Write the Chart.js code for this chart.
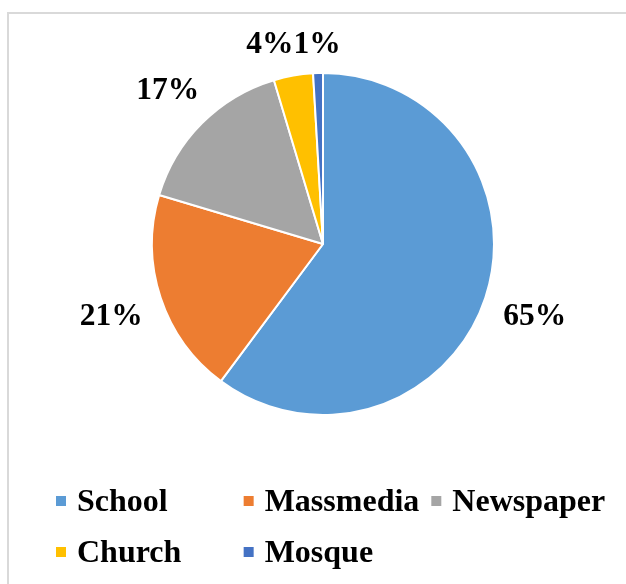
<!DOCTYPE html>
<html>
<head>
<meta charset="utf-8">
<script src="https://cdn.jsdelivr.net/npm/chart.js@4"></script>
<style>
  body { margin: 0; background: #fff; }
  canvas { display: block; }
</style>
</head>
<body>
<canvas id="sources" width="626" height="584"></canvas>
<script>
const categories = ['School', 'Massmedia', 'Newspaper', 'Church', 'Mosque'];
const shares = [65, 21, 17, 4, 1];
const colours = ['#5B9BD5', '#ED7D31', '#A5A5A5', '#FFC000', '#4472C4'];

const FONT = '"Liberation Serif", "Times New Roman", serif';

// outer frame like the Excel chart area
const framePlugin = {
  id: 'frame',
  beforeDraw(chart) {
    const ctx = chart.ctx;
    ctx.save();
    ctx.strokeStyle = '#d9d9d9';
    ctx.lineWidth = 2;
    ctx.strokeRect(8, 13, 700, 700);
    ctx.restore();
  }
};

// value labels outside each slice, "best fit" style
const labelPlugin = {
  id: 'outsideLabels',
  afterDatasetsDraw(chart) {
    const ctx = chart.ctx;
    const arcs = chart.getDatasetMeta(0).data;
    const size = 31.5;
    ctx.save();
    ctx.font = 'bold ' + size + 'px ' + FONT;
    const cap = size * 0.66;
    const pad = 19;
    const boxes = arcs.map((arc, i) => {
      const text = shares[i] + '%';
      const w = ctx.measureText(text).width;
      const mid = (arc.startAngle + arc.endAngle) / 2;
      const dx = Math.cos(mid), dy = Math.sin(mid);
      const half = Math.abs(dx) * w / 2 + Math.abs(dy) * cap / 2;
      const d = arc.outerRadius + pad + half;
      return { text, w, x: arc.x + dx * d, y: arc.y + dy * d };
    });
    // push overlapping neighbours apart (work back from the last slice)
    for (let i = boxes.length - 2; i >= 0; i--) {
      const a = boxes[i], b = boxes[i + 1];
      const overlapX = (a.w + b.w) / 2 - Math.abs(a.x - b.x);
      const overlapY = cap + 4 - Math.abs(a.y - b.y);
      if (overlapX > 0 && overlapY > 0) {
        a.x += a.x < b.x ? -overlapX : overlapX;
      }
    }
    ctx.fillStyle = '#000';
    ctx.textAlign = 'center';
    ctx.textBaseline = 'alphabetic';
    boxes.forEach(b => ctx.fillText(b.text, b.x, b.y + cap / 2));
    ctx.restore();
  }
};

// legend in an Excel-like grid under the pie
const legendPlugin = {
  id: 'gridLegend',
  afterDraw(chart) {
    const ctx = chart.ctx;
    ctx.save();
    ctx.font = 'bold 32px ' + FONT;
    const box = 10, gapText = 11, gapCol = 12;
    const itemW = categories.map(c => box + gapText + ctx.measureText(c).width);
    const colW = Math.max(...itemW) + gapCol;
    const perRow = 3;
    const left = 56, firstBase = 511, rowH = 51;
    ctx.textAlign = 'left';
    ctx.textBaseline = 'alphabetic';
    categories.forEach((c, i) => {
      const x = left + (i % perRow) * colW;
      const base = firstBase + Math.floor(i / perRow) * rowH;
      ctx.fillStyle = colours[i];
      ctx.fillRect(x, base - 15, box, box);
      ctx.fillStyle = '#000';
      ctx.fillText(c, x + box + gapText, base);
    });
    ctx.restore();
  }
};

const ctx1 = document.getElementById('sources').getContext('2d');
new Chart(ctx1, {
  type: 'pie',
  data: {
    labels: categories,
    datasets: [{
      data: shares,
      backgroundColor: colours,
      borderColor: '#ffffff',
      borderWidth: 2,
      hoverOffset: 0
    }]
  },
  options: {
    responsive: false,
    animation: false,
    layout: { padding: { top: 72, bottom: 168, left: 151, right: 131 } },
    plugins: {
      legend: { display: false },
      tooltip: { enabled: false }
    }
  },
  plugins: [framePlugin, labelPlugin, legendPlugin]
});
</script>
</body>
</html>
